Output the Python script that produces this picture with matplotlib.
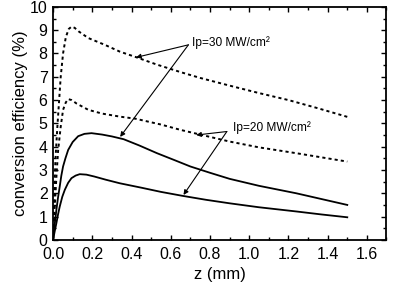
import numpy as np
import matplotlib
matplotlib.use("Agg")
import matplotlib.pyplot as plt
from matplotlib.ticker import MultipleLocator, FormatStrFormatter

plt.rcParams['font.family'] = ['Liberation Sans', 'DejaVu Sans']

# dashed curves
z_30d = [0, 0.005, 0.012, 0.022, 0.031, 0.039, 0.051, 0.065, 0.08, 0.094, 0.11, 0.13, 0.18,
         0.264, 0.34, 0.42, 0.53, 0.65, 0.75, 0.9, 1.05, 1.2, 1.35, 1.5]
e_30d = [0, 1.7, 3.43, 4.86, 6.0, 7.0, 8.0, 8.7, 9.05, 9.15, 9.1, 8.95, 8.66,
         8.37, 8.08, 7.85, 7.52, 7.2, 6.95, 6.62, 6.3, 6.0, 5.65, 5.28]
z_20d = [0, 0.008, 0.017, 0.026, 0.039, 0.051, 0.065, 0.077, 0.095, 0.12, 0.18, 0.25,
         0.34, 0.42, 0.55, 0.65, 0.75, 0.9, 1.05, 1.24, 1.5]
e_20d = [0, 1.3, 2.7, 3.86, 4.86, 5.58, 5.9, 6.04, 6.0, 5.85, 5.58, 5.42,
         5.29, 5.2, 4.95, 4.72, 4.52, 4.22, 3.97, 3.72, 3.36]

# solid curves
z_30s = [0, 0.008, 0.017, 0.025, 0.034, 0.042, 0.051, 0.063, 0.077, 0.1, 0.128, 0.16, 0.196,
         0.25, 0.3, 0.36, 0.44, 0.53, 0.62, 0.7, 0.8, 0.9, 1.05, 1.24, 1.37, 1.5]
e_30s = [0, 0.65, 1.29, 1.8, 2.29, 2.75, 3.15, 3.5, 3.86, 4.2, 4.45, 4.55, 4.58,
         4.52, 4.44, 4.32, 4.05, 3.72, 3.42, 3.15, 2.88, 2.62, 2.32, 2.0, 1.75, 1.5]
z_20s = [0, 0.008, 0.017, 0.025, 0.034, 0.047, 0.06, 0.077, 0.094, 0.115, 0.136, 0.17, 0.21,
         0.27, 0.34, 0.45, 0.55, 0.66, 0.78, 0.9, 1.05, 1.24, 1.37, 1.5]
e_20s = [0, 0.35, 0.72, 1.08, 1.43, 1.85, 2.15, 2.45, 2.65, 2.76, 2.82, 2.8, 2.72,
         2.58, 2.43, 2.24, 2.06, 1.89, 1.72, 1.57, 1.4, 1.22, 1.09, 0.97]

label_30 = "Ip=30 MW/cm\u00b2"
label_20 = "Ip=20 MW/cm\u00b2"

fig = plt.figure(figsize=(3.96, 2.98), dpi=100)
ax = fig.add_axes([0.134, 0.195, 0.842, 0.782])

dash = (0, (1.6, 1.6))
ax.plot(z_30d, e_30d, color="k", lw=1.4, linestyle=dash)
ax.plot(z_20d, e_20d, color="k", lw=1.4, linestyle=dash)
ax.plot(z_30s, e_30s, color="k", lw=1.3)
ax.plot(z_20s, e_20s, color="k", lw=1.3)

# annotations: text + two arrows each
arrow = dict(arrowstyle="-|>", lw=0.8, color="k", mutation_scale=7, shrinkA=0, shrinkB=0)
ax.text(0.71, 8.45, label_30, fontsize=8.6, va="center", ha="left")
ax.annotate("", xy=(0.423, 7.83), xytext=(0.69, 8.37), arrowprops=arrow)
ax.annotate("", xy=(0.342, 4.42), xytext=(0.69, 8.37), arrowprops=arrow)
ax.text(0.918, 4.81, label_20, fontsize=8.6, va="center", ha="left")
ax.annotate("", xy=(0.73, 4.5), xytext=(0.886, 4.65), arrowprops=arrow)
ax.annotate("", xy=(0.665, 1.93), xytext=(0.886, 4.65), arrowprops=arrow)

ax.set_xlim(0, 1.7)
ax.set_ylim(0, 10)
ax.xaxis.set_major_locator(MultipleLocator(0.2))
ax.xaxis.set_minor_locator(MultipleLocator(0.1))
ax.xaxis.set_major_formatter(FormatStrFormatter("%.1f"))
ax.yaxis.set_major_locator(MultipleLocator(1))
ax.yaxis.set_minor_locator(MultipleLocator(0.5))
ax.tick_params(which="both", direction="in", top=True, right=True, width=1.0)
ax.tick_params(which="major", length=3.5, labelsize=11.5)
ax.tick_params(axis="x", which="major", pad=5)
ax.tick_params(axis="y", which="major", pad=4)
ax.tick_params(which="minor", length=2)
for s in ax.spines.values():
    s.set_linewidth(1.3)

ax.set_xlabel("z (mm)", fontsize=12, labelpad=4)
ax.set_ylabel("conversion efficiency (%)", fontsize=12, labelpad=1)

fig.savefig("out.png", dpi=100)
